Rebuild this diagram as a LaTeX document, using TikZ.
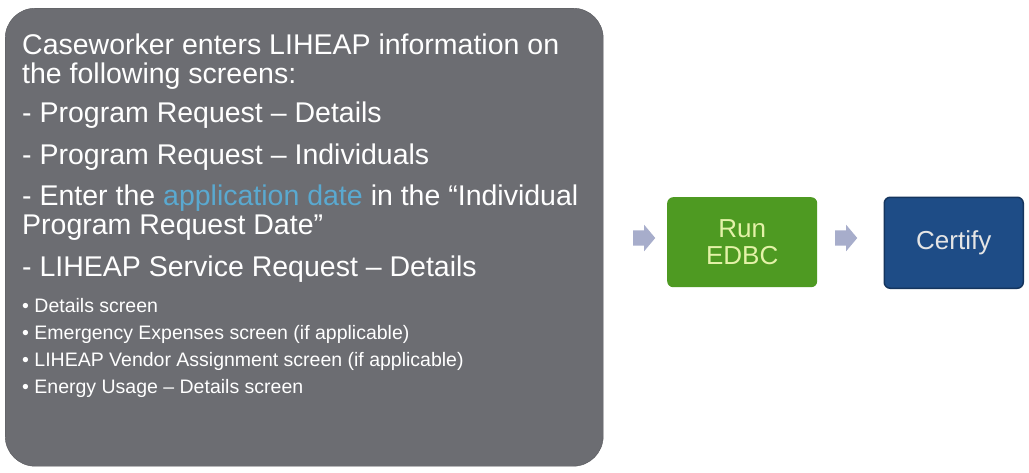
\documentclass[tikz,border=0pt]{standalone}
\usepackage{fontspec}
\setmainfont{Liberation Sans}
\usetikzlibrary{shapes.arrows}
\definecolor{boxgrey}{HTML}{6C6D72}
\definecolor{boxgreen}{HTML}{4E9A22}
\definecolor{boxblue}{HTML}{1E4C86}
\definecolor{arrowgrey}{HTML}{A7ADCB}
\definecolor{linkblue}{HTML}{5AA9D0}
\definecolor{greentext}{HTML}{E4F2A8}
\tikzset{
  x=1pt,y=-1pt,
  bigtext/.style={anchor=base west,inner sep=0pt,text=white,font=\fontsize{28.5}{30}\selectfont},
  smalltext/.style={anchor=base west,inner sep=0pt,text=white,font=\fontsize{19.5}{20}\selectfont},
  stepbox/.style={rounded corners=6pt,minimum width=150pt,minimum height=90pt,align=center,font=\fontsize{26}{27}\selectfont},
  flowarrow/.style={single arrow,fill=arrowgrey,draw=none,inner xsep=0pt,inner ysep=7.5pt,single arrow head extend=5.5pt,single arrow tip angle=100,minimum height=22pt}
}
\begin{document}
\begin{tikzpicture}
\useasboundingbox[fill=white] (0,0) rectangle (1029,472);
\node[draw=boxgrey!80!black,fill=boxgrey,rounded corners=30pt,minimum width=598pt,minimum height=458pt,anchor=north west] (main) at (5,8) {};
\node[bigtext] (l1) at (22,54) {Caseworker enters LIHEAP information on};
\node[bigtext] (l2) at (22,83) {the following screens:};
\node[bigtext] (l3) at (22,122) {- Program Request -- Details};
\node[bigtext] (l4) at (22,164) {- Program Request -- Individuals};
\node[bigtext] (l5) at (22,205) {- Enter the \textcolor{linkblue}{application date} in the “Individual};
\node[bigtext] (l6) at (22,234) {Program Request Date”};
\node[bigtext] (l7) at (22,276) {- LIHEAP Service Request -- Details};
\node[smalltext] (s1) at (22,312) {• Details screen};
\node[smalltext] (s2) at (22,339) {• Emergency Expenses screen (if applicable)};
\node[smalltext] (s3) at (22,366) {• LIHEAP Vendor Assignment screen (if applicable)};
\node[smalltext] (s4) at (22,393) {• Energy Usage -- Details screen};
\node[stepbox,fill=boxgreen,text=greentext,anchor=north west] (run) at (667,197) {Run\\EDBC};
\node[stepbox,fill=boxblue,draw=boxblue!70!black,line width=1.5pt,text=white!90!black,anchor=north west,minimum width=139pt,minimum height=91pt] (cert) at (883.5,196.5) {Certify};
\node[flowarrow] (a1) at (641,238) {};
\node[flowarrow] (a2) at (843,238) {};
\end{tikzpicture}
\end{document}
